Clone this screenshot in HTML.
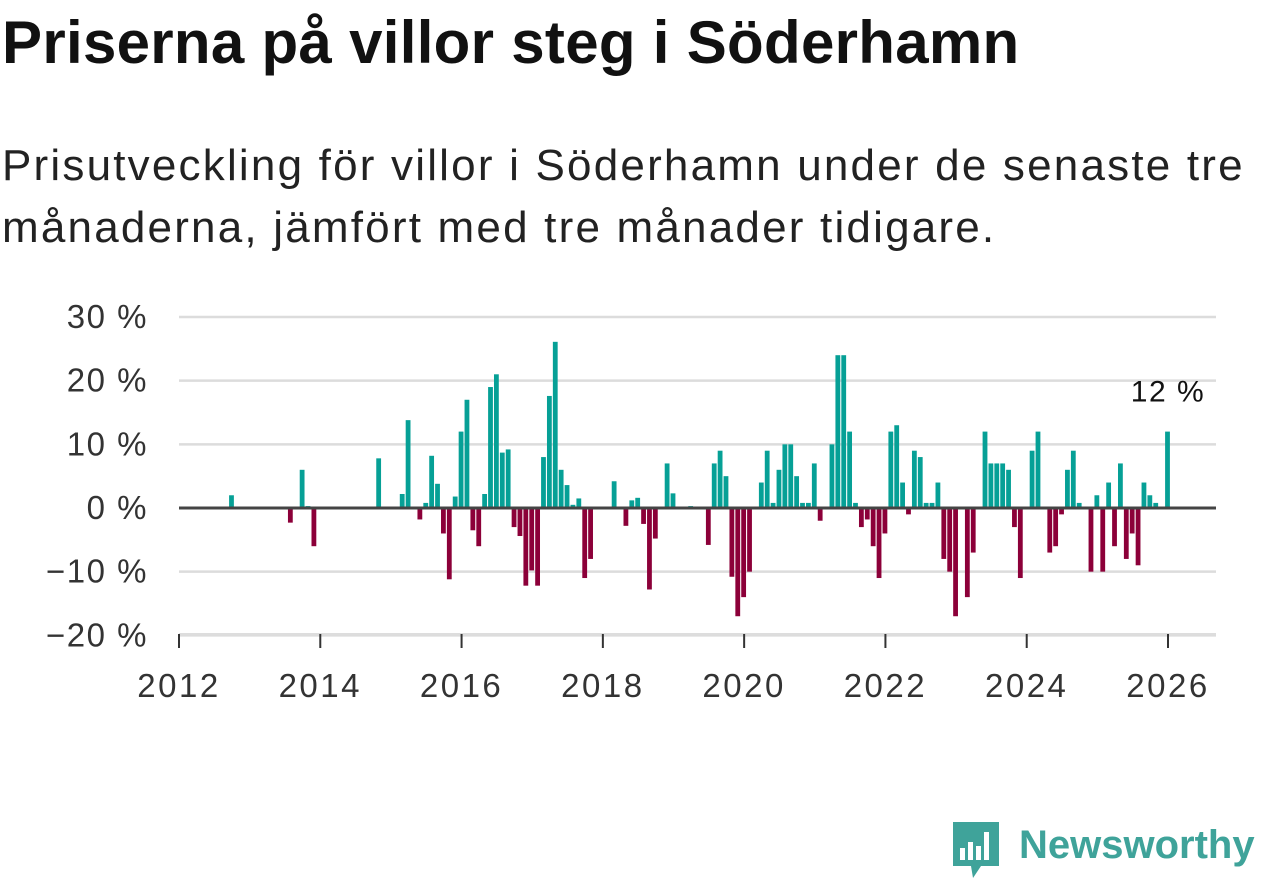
<!DOCTYPE html>
<html><head><meta charset="utf-8"><style>
body{margin:0;width:1262px;height:879px;background:#fff;overflow:hidden;font-family:"Liberation Sans",sans-serif;color:#111}
h1{position:absolute;left:2px;top:8px;margin:0;font-size:60px;line-height:70px;font-weight:bold;letter-spacing:0.3px;white-space:nowrap}
.sub{position:absolute;left:2px;top:135px;margin:0;font-size:44px;line-height:62px;color:#222;letter-spacing:2.2px;white-space:nowrap}
</style></head><body>
<h1>Priserna på villor steg i Söderhamn</h1>
<p class="sub">Prisutveckling för villor i Söderhamn under de senaste tre<br>månaderna, jämfört med tre månader tidigare.</p>
<svg id="chart" width="1262" height="879" style="position:absolute;left:0;top:0"></svg>
<script>
const months=["2012-10","2013-08","2013-10","2013-11","2013-12","2014-11","2015-03","2015-04","2015-06","2015-07","2015-08","2015-09","2015-10","2015-11","2015-12","2016-01","2016-02","2016-03","2016-04","2016-05","2016-06","2016-07","2016-08","2016-09","2016-10","2016-11","2016-12","2017-01","2017-02","2017-03","2017-04","2017-05","2017-06","2017-07","2017-08","2017-09","2017-10","2017-11","2018-03","2018-05","2018-06","2018-07","2018-08","2018-09","2018-10","2018-12","2019-01","2019-04","2019-07","2019-08","2019-09","2019-10","2019-11","2019-12","2020-01","2020-02","2020-04","2020-05","2020-06","2020-07","2020-08","2020-09","2020-10","2020-11","2020-12","2021-01","2021-02","2021-04","2021-05","2021-06","2021-07","2021-08","2021-09","2021-10","2021-11","2021-12","2022-01","2022-02","2022-03","2022-04","2022-05","2022-06","2022-07","2022-08","2022-09","2022-10","2022-11","2022-12","2023-01","2023-03","2023-04","2023-06","2023-07","2023-08","2023-09","2023-10","2023-11","2023-12","2024-02","2024-03","2024-05","2024-06","2024-07","2024-08","2024-09","2024-10","2024-12","2025-01","2025-02","2025-03","2025-04","2025-05","2025-06","2025-07","2025-08","2025-09","2025-10","2025-11","2026-01"];
const values=[2,-2.3,6,0.3,-6,7.8,2.2,13.8,-1.8,0.8,8.2,3.8,-4,-11.2,1.8,12,17,-3.5,-6,2.2,19,21,8.7,9.2,-3,-4.4,-12.2,-9.8,-12.2,8,17.6,26.1,6,3.6,0.5,1.5,-11,-8,4.2,-2.8,1.2,1.6,-2.5,-12.8,-4.8,7,2.3,0.3,-5.8,7,9,5,-10.8,-17,-14,-10,4,9,0.8,6,10,10,5,0.8,0.8,7,-2,10,24,24,12,0.8,-3,-1.8,-6,-11,-4,12,13,4,-1,9,8,0.8,0.8,4,-8,-10,-17,-14,-7,12,7,7,7,6,-3,-11,9,12,-7,-6,-1,6,9,0.8,-10,2,-10,4,-6,7,-8,-4,-9,4,2,0.8,12];
const yTicks=[30,20,10,0,-10,-20];
const yTickLabels=["30 %","20 %","10 %","0 %","−10 %","−20 %"];
const xTicks=[2012,2014,2016,2018,2020,2022,2024,2026];
const NS="http://www.w3.org/2000/svg";
const svg=document.getElementById('chart');
const X0=179,PXY=(1168-179)/14;
function xScale(year){return X0+(year-2012)*PXY;}
function xMonth(s){const p=s.split('-');return xScale(+p[0]+(+p[1]-1)/12);}
function yScale(v){return 508-v*(508-317)/30;}
function mk(t,a){const e=document.createElementNS(NS,t);for(const k in a)e.setAttribute(k,a[k]);svg.appendChild(e);return e;}
yTicks.forEach((v,i)=>{
  if(v!==0){const l=mk('line',{x1:179,x2:1216,y1:yScale(v),y2:yScale(v),stroke:'#dcdcdc','stroke-width':2.5});
  
  }
  const t=mk('text',{x:148,y:yScale(v)+11,'text-anchor':'end','font-size':33,'letter-spacing':1.5,fill:'#333','font-family':'Liberation Sans, sans-serif'});
  t.textContent=yTickLabels[i];
  
  
});
months.forEach((m,i)=>{
  const v=values[i],x=xMonth(m)-0.5,y0=yScale(0),y1=yScale(v);
  const r=mk('rect',{x:x-2.4,width:4.8,y:Math.min(y0,y1),height:Math.abs(y1-y0),fill:v>=0?'#06a096':'#8c0039'});
  
  
});
const base=mk('line',{x1:179,x2:1216,y1:508,y2:508,stroke:'#444','stroke-width':3});


const ax=mk('line',{x1:179,x2:1216,y1:634,y2:634,stroke:'#ddd','stroke-width':2});


xTicks.forEach(yr=>{
  const tk=mk('line',{x1:xScale(yr),x2:xScale(yr),y1:634,y2:648,stroke:'#333','stroke-width':2});
  
  
  const t=mk('text',{x:xScale(yr),y:697,'text-anchor':'middle','font-size':33,'letter-spacing':2.5,fill:'#333','font-family':'Liberation Sans, sans-serif'});
  t.textContent=yr;
  
  
});
const lastI=values.length-1;
const ann=mk('text',{x:xMonth(months[lastI]),y:yScale(values[lastI])-30,'text-anchor':'middle','font-size':30,'letter-spacing':1.5,fill:'#111','font-family':'Liberation Sans, sans-serif'});
ann.textContent=values[lastI]+' %';


</script>
<div style="position:absolute;left:951px;top:820px;height:60px;display:flex;align-items:flex-start">
<svg width="50" height="60" viewBox="0 0 50 60"><path d="M2 2h46v44H30l-8 12-2-12H2z" fill="#3fa39a"/><rect x="9" y="28" width="5" height="12" fill="#fff"/><rect x="17" y="22" width="5" height="18" fill="#fff"/><rect x="25" y="26" width="5" height="14" fill="#fff"/><rect x="33" y="12" width="5" height="28" fill="#fff"/></svg>
<span style="font-size:40px;font-weight:bold;color:#3fa39a;margin-left:18px;line-height:50px">Newsworthy</span>
</div>
</body></html>
